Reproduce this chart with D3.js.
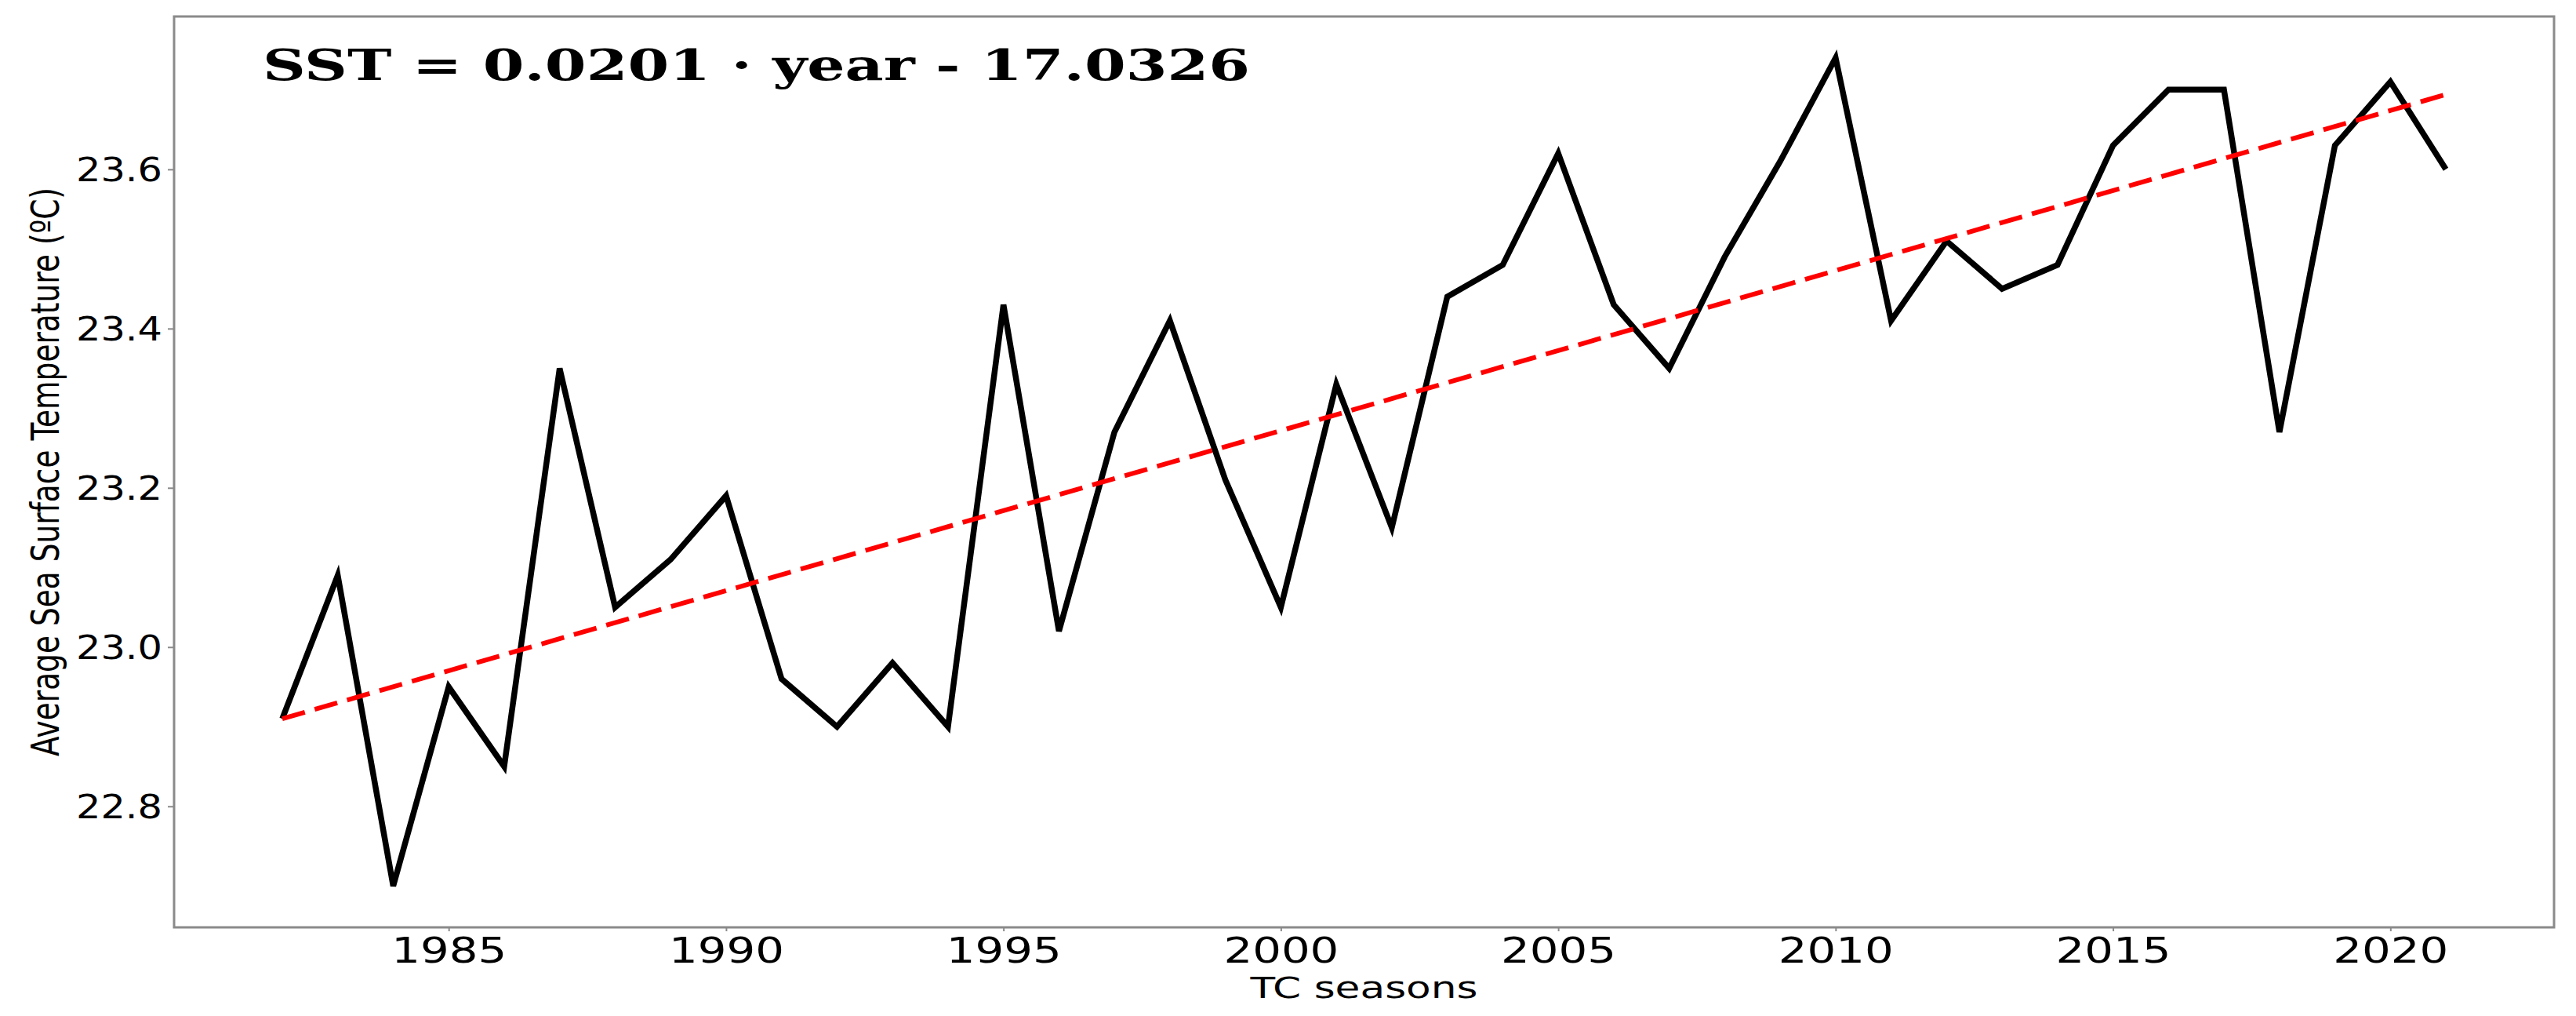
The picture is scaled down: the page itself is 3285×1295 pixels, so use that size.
<!DOCTYPE html>
<html>
<head>
<meta charset="utf-8">
<script src="https://cdn.jsdelivr.net/npm/d3@7/dist/d3.min.js"></script>
<style>
  html, body { margin: 0; padding: 0; background: #ffffff; }
  svg { display: block; }
</style>
</head>
<body>
<svg id="chart" width="3285" height="1295"></svg>
<script>
// ---- data ----
const years = [1982,1983,1984,1985,1986,1987,1988,1989,1990,1991,1992,1993,1994,1995,1996,1997,1998,1999,2000,2001,2002,2003,2004,2005,2006,2007,2008,2009,2010,2011,2012,2013,2014,2015,2016,2017,2018,2019,2020,2021];
const sst = [22.91,23.09,22.70,22.95,22.85,23.35,23.05,23.11,23.19,22.96,22.90,22.98,22.90,23.43,23.02,23.27,23.41,23.21,23.05,23.33,23.15,23.44,23.48,23.62,23.43,23.35,23.49,23.61,23.74,23.41,23.51,23.45,23.48,23.63,23.70,23.70,23.27,23.63,23.71,23.60];
const trendYears = [1982, 2021];
const trendValues = [22.910, 23.694];
const xTicks = [1985,1990,1995,2000,2005,2010,2015,2020];
const yTicks = [22.8,23.0,23.2,23.4,23.6];
const titleText = "SST = 0.0201 \u00B7 year - 17.0326";
const xLabel = "TC seasons";
const yLabel = "Average Sea Surface Temperature (\u00BAC)";

(function () {
// ---- layout ----
const pLeft = 222, pRight = 3257, pTop = 21, pBottom = 1182;
const svg = d3.select("#chart");

// matplotlib-like 5% margins
const xe = d3.extent(years), ye = d3.extent(sst);
const xpad = (xe[1]-xe[0])*0.05, ypad = (ye[1]-ye[0])*0.05;
const x = d3.scaleLinear().domain([xe[0]-xpad, xe[1]+xpad]).range([pLeft, pRight]);
const y = d3.scaleLinear().domain([ye[0]-ypad, ye[1]+ypad]).range([pBottom, pTop]);

const frameColor = "#8a8a8a";

// axes
const gx = svg.append("g").attr("transform", `translate(0,${pBottom})`)
  .call(d3.axisBottom(x).tickValues(xTicks).tickFormat(d3.format("d")).tickSize(5).tickPadding(12));
const gy = svg.append("g").attr("transform", `translate(${pLeft},0)`)
  .call(d3.axisLeft(y).tickValues(yTicks).tickFormat(d3.format(".1f")).tickSize(8).tickPadding(14));

[gx, gy].forEach(g => {
  g.select(".domain").remove();
  g.selectAll(".tick line").attr("stroke", frameColor).attr("stroke-width", 2);
});
gx.selectAll(".tick text")
  .attr("font-family", "DejaVu Sans").attr("font-size", 44).attr("fill", "#000")
  .attr("dy", null).attr("y", 45)
  .attr("textLength", 147).attr("lengthAdjust", "spacingAndGlyphs");
gy.selectAll(".tick text")
  .attr("font-family", "DejaVu Sans").attr("font-size", 42).attr("fill", "#000")
  .attr("dy", "0.36em").attr("x", -15)
  .attr("textLength", 110).attr("lengthAdjust", "spacingAndGlyphs");

// frame
svg.append("rect")
  .attr("x", pLeft).attr("y", pTop)
  .attr("width", pRight-pLeft).attr("height", pBottom-pTop)
  .attr("fill", "none").attr("stroke", frameColor).attr("stroke-width", 3);

// series line
const pts = years.map((yr, i) => [yr, sst[i]]);
svg.append("path")
  .datum(pts)
  .attr("fill", "none").attr("stroke", "#000").attr("stroke-width", 7.5)
  .attr("stroke-linejoin", "miter").attr("stroke-miterlimit", 4).attr("stroke-linecap", "butt")
  .attr("d", d3.line().x(d => x(d[0])).y(d => y(d[1])));

// trend line
const tpts = trendYears.map((yr, i) => [yr, trendValues[i]]);
svg.append("path")
  .datum(tpts)
  .attr("fill", "none").attr("stroke", "#ff0000").attr("stroke-width", 6)
  .attr("stroke-dasharray", "30,13")
  .attr("d", d3.line().x(d => x(d[0])).y(d => y(d[1])));

// title equation
svg.append("text")
  .attr("x", 335).attr("y", 102)
  .attr("font-family", "DejaVu Serif").attr("font-weight", "bold")
  .attr("font-size", 55).attr("fill", "#000")
  .attr("textLength", 1259).attr("lengthAdjust", "spacingAndGlyphs")
  .text(titleText);

// x label
svg.append("text")
  .attr("x", (pLeft+pRight)/2).attr("y", 1272)
  .attr("text-anchor", "middle")
  .attr("font-family", "DejaVu Sans").attr("font-size", 37).attr("fill", "#000")
  .attr("textLength", 290).attr("lengthAdjust", "spacingAndGlyphs")
  .text(xLabel);

// y label (rotated, glyphs stretched horizontally like the reference)
svg.append("text")
  .attr("transform", `translate(75,${(pTop+pBottom)/2}) scale(1.35,1) rotate(-90)`)
  .attr("text-anchor", "middle")
  .attr("font-family", "DejaVu Sans").attr("font-size", 37).attr("fill", "#000")
  .attr("textLength", 725).attr("lengthAdjust", "spacingAndGlyphs")
  .text(yLabel);
})();
</script>
</body>
</html>
